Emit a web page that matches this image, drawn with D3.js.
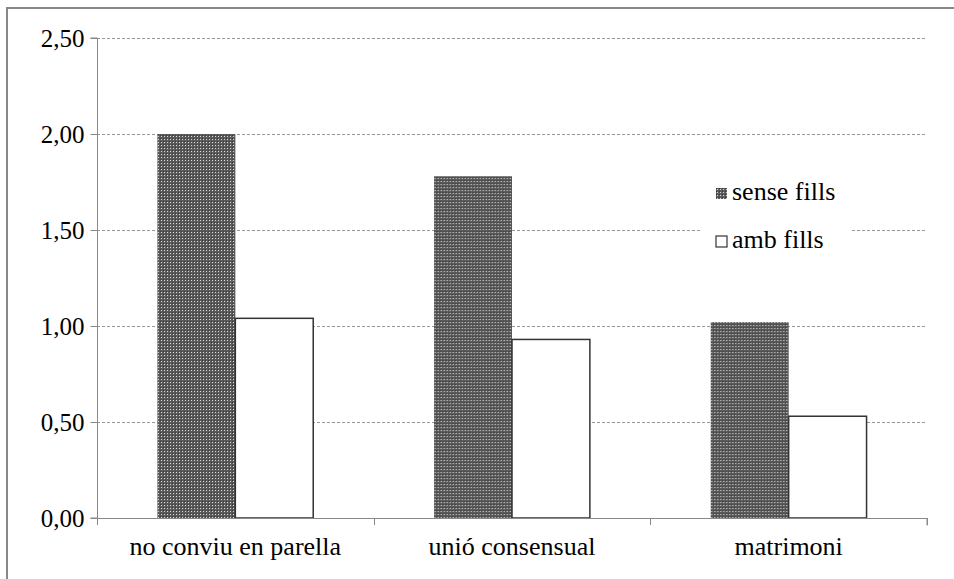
<!DOCTYPE html>
<html><head><meta charset="utf-8">
<script src="https://cdn.jsdelivr.net/npm/d3@7"></script>
</head><body style="margin:0;background:#fff">
<script>
const categories = ["no conviu en parella", "unió consensual", "matrimoni"];
const seriesNames = ["sense fills", "amb fills"];
const senseFills = [2.00, 1.78, 1.02];
const ambFills = [1.04, 0.93, 0.53];
const yTicks = [0, 0.5, 1.0, 1.5, 2.0, 2.5];

const FAM = '"Times New Roman", "Tinos", "FreeSerif", "Liberation Serif"';
const W = 954, H = 579;
const svg = d3.select("body").append("svg").attr("width", W).attr("height", H)
  .style("display","block").style("font-family", FAM);
const defs = svg.append("defs");
const pat = defs.append("pattern").attr("id","chk").attr("patternUnits","userSpaceOnUse")
  .attr("width",3).attr("height",3);
pat.append("rect").attr("width",3).attr("height",3).attr("fill","#5a5a5a");
pat.append("rect").attr("x",1).attr("y",1).attr("width",1).attr("height",1).attr("fill","#d8d8d8");
pat.append("rect").attr("x",0).attr("y",0).attr("width",1).attr("height",1).attr("fill","#3a3a3a");

function serif(sel){ sel.attr("font-family", null).style("font-family", FAM); }

// outer frame
svg.append("path").attr("d",`M7,${H} V8 H${W}`).attr("fill","none").attr("stroke","#888").attr("stroke-width",2);

const pLeft = 97, pRight = 927, pTop = 38, pBottom = 518;
const y = d3.scaleLinear().domain([0,2.5]).range([pBottom, pTop]);
const x0 = d3.scaleBand().domain(categories).range([pLeft, pRight]).paddingInner(0).paddingOuter(0);
const x1 = d3.scaleBand().domain(seriesNames).range([0, x0.bandwidth()]).paddingOuter(0.776).paddingInner(0);

// gridlines
svg.append("g").selectAll("line").data(yTicks.filter(d=>d>0)).join("line")
  .attr("x1",pLeft).attr("x2",pRight).attr("y1",d=>Math.round(y(d))+0.5).attr("y2",d=>Math.round(y(d))+0.5)
  .attr("stroke","#999").attr("stroke-dasharray","3,2").attr("stroke-width",1);

// y axis
const yAxis = d3.axisLeft(y).tickValues(yTicks).tickSize(7).tickPadding(6)
  .tickFormat(d=>d3.format(".2f")(d).replace(".",","));
const gy = svg.append("g").attr("transform",`translate(${pLeft+0.5},0)`).call(yAxis);
gy.call(serif);
gy.select(".domain").attr("stroke","#888").attr("d",`M-7,${pTop}H0V${pBottom}H-7`);
gy.selectAll(".tick line").attr("stroke","#888");
gy.selectAll(".tick text").attr("font-size",25).attr("fill","#000").call(serif);

// bars
const data = categories.map((c,i)=>({c, vals:[{s:seriesNames[0],v:senseFills[i]},{s:seriesNames[1],v:ambFills[i]}]}));
const g = svg.append("g").selectAll("g").data(data).join("g").attr("transform",d=>`translate(${x0(d.c)},0)`);
g.selectAll("rect").data(d=>d.vals).join("rect")
  .attr("x",d=>x1(d.s)).attr("y",d=>y(d.v)).attr("width",x1.bandwidth()).attr("height",d=>pBottom-y(d.v))
  .attr("fill",d=>d.s===seriesNames[0]?"url(#chk)":"#fff")
  .attr("stroke",d=>d.s===seriesNames[0]?"none":"#333").attr("stroke-width",1.5);

// x axis
const xAxis = d3.axisBottom(x0).tickSize(0).tickPadding(18);
const gx = svg.append("g").attr("transform",`translate(0,${pBottom+0.5})`).call(xAxis);
gx.call(serif);
gx.select(".domain").attr("stroke","#888").attr("d",`M${pLeft},0H${pRight}V7`);
gx.selectAll(".tick text").attr("font-size",26).attr("fill","#000").call(serif);
const bounds = [0,1,2,3].map(i=>pLeft + i*x0.bandwidth());
svg.append("g").selectAll("line").data(bounds).join("line")
  .attr("x1",d=>Math.round(d)+0.5).attr("x2",d=>Math.round(d)+0.5).attr("y1",pBottom).attr("y2",pBottom+7)
  .attr("stroke","#888");

// legend
const lg = svg.append("g");
lg.append("rect").attr("x",701).attr("y",165).attr("width",150).attr("height",100).attr("fill","#fff");
const items = lg.selectAll("g").data(seriesNames).join("g")
  .attr("transform",(d,i)=>`translate(716,${188+i*48})`);
items.append("rect").attr("width",11).attr("height",11)
  .attr("fill",(d,i)=>i===0?"url(#chk)":"#fff").attr("stroke",(d,i)=>i===0?"none":"#333").attr("stroke-width",1.2);
items.append("text").attr("x",16).attr("y",12).attr("font-size",26).attr("fill","#000").call(serif).text(d=>d);
</script>
</body></html>
